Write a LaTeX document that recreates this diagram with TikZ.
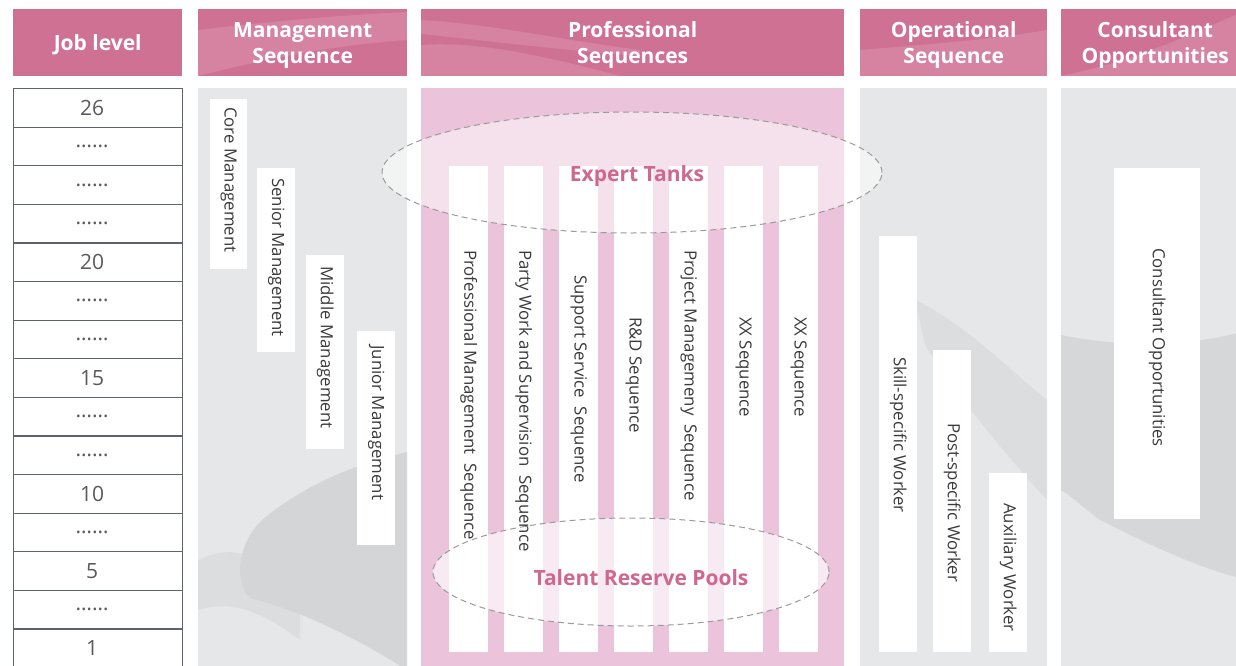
\documentclass[tikz,border=0pt]{standalone}
\usepackage{fontspec}
\setmainfont{Open Sans}
\usetikzlibrary{calc,shapes.geometric}
\definecolor{hdrpink}{HTML}{CF7193}
\definecolor{propink}{HTML}{EBC3DA}
\definecolor{panelgray}{HTML}{E6E7E8}
\definecolor{brushgray}{HTML}{D4D5D6}
\definecolor{tblline}{HTML}{5B6272}
\definecolor{txtgray}{HTML}{5A5A5A}
\definecolor{txtdark}{HTML}{3A3A3A}
\definecolor{accent}{HTML}{D0678E}
\definecolor{dashgray}{HTML}{9B9B9B}
\begin{document}
\begin{tikzpicture}[x=1pt,y=-1pt,
  hbg/.style={fill=hdrpink, anchor=north west, inner sep=0pt, minimum height=67pt},
  hdr/.style={text=white, font=\fontsize{21}{26}\selectfont\bfseries,
    align=center, anchor=north west, inner sep=0pt, minimum height=67pt, yshift=-2.5pt},
  panel/.style={anchor=north west, inner sep=0pt, minimum height=590pt},
  row/.style={draw=tblline, line width=1.1pt, fill=white, anchor=north west, inner sep=0pt,
    minimum width=169pt, minimum height=38.6pt, text=txtgray, font=\fontsize{21}{22}\selectfont},
  wbox/.style={fill=white, anchor=north west, inner sep=0pt},
  vtext/.style={rotate=-90, anchor=west, inner sep=0pt, text=txtdark, font=\fontsize{16.8}{18}\selectfont},
  pool/.style={ellipse, draw=dashgray, line width=1pt, dash pattern=on 6pt off 4pt, fill=white, inner sep=0pt},
  pooltext/.style={text=accent, font=\fontsize{21}{24}\selectfont\bfseries, inner sep=0pt},
  brush/.style={fill=brushgray, draw=none},
  streak/.style={fill=white, fill opacity=0.13, draw=none}
]
\useasboundingbox (0,0) rectangle (1236,666);
\fill[white] (0,0) rectangle (1236,666);

% ---------- header backgrounds ----------
\node[hbg, minimum width=169pt] (bjob) at (13,9) {};
\node[hbg, minimum width=209pt] (bmgmt) at (198,9) {};
\node[hbg, minimum width=423pt] (bpro) at (421,9) {};
\node[hbg, minimum width=187pt] (bop) at (860,9) {};
\node[hbg, minimum width=188pt] (bcon) at (1061,9) {};
% light brush streaks on headers
\begin{scope}
  \clip (198,9) rectangle (407,76) (421,9) rectangle (844,76) (860,9) rectangle (1047,76) (1061,9) rectangle (1249,76);
  \fill[streak] (198,30) .. controls (280,20) and (360,14) .. (407,12) -- (407,40) .. controls (340,44) and (260,60) .. (198,76) -- cycle;
  \fill[streak] (421,45) .. controls (480,40) and (560,60) .. (620,76) -- (421,76) -- cycle;
  \fill[streak] (421,20) .. controls (500,25) and (560,40) .. (640,50) -- (640,56) .. controls (560,50) and (480,40) .. (421,34) -- cycle;
  \fill[streak] (860,50) .. controls (920,45) and (990,40) .. (1047,30) -- (1047,76) -- (860,76) -- cycle;
  \fill[streak] (1061,76) .. controls (1140,60) and (1200,30) .. (1249,9) -- (1249,76) -- cycle;
\end{scope}
% ---------- header texts ----------
\node[hdr, minimum width=169pt] (hjob) at (13,9) {Job level};
\node[hdr, minimum width=209pt] (hmgmt) at (198,9) {Management\\Sequence};
\node[hdr, minimum width=423pt] (hpro) at (421,9) {Professional\\Sequences};
\node[hdr, minimum width=187pt] (hop) at (860,9) {Operational\\Sequence};
\node[hdr, minimum width=188pt] (hcon) at (1061,9) {Consultant\\Opportunities};

% ---------- panels ----------
\node[panel, fill=panelgray, minimum width=209pt] (pmgmt) at (198,88) {};
\node[panel, fill=propink, minimum width=423pt] (ppro) at (421,88) {};
\node[panel, fill=panelgray, minimum width=187pt] (pop) at (860,88) {};
\node[panel, fill=panelgray, minimum width=188pt] (pcon) at (1061,88) {};

% brush textures on grey panels
\begin{scope}
  \clip (198,88) rectangle (407,678);
  \fill[brush] (262,520) .. controls (310,480) and (365,462) .. (407,452) -- (407,670)
     .. controls (360,640) and (300,610) .. (250,598) .. controls (232,580) and (240,540) .. (262,520) -- cycle;
  \fill[brush, opacity=0.5] (198,560) .. controls (240,540) and (270,560) .. (300,600) -- (300,640) .. controls (260,610) and (230,600) .. (198,610) -- cycle;
\end{scope}
\begin{scope}
  \clip (860,88) rectangle (1047,678);
  \fill[brush, opacity=0.5] (915,300) .. controls (960,320) and (1010,370) .. (1047,400)
     -- (1047,500) .. controls (1010,460) and (960,400) .. (925,345) -- cycle;
\end{scope}
\begin{scope}
  \clip (1061,88) rectangle (1249,678);
  \fill[brush, opacity=0.85] (1061,335) .. controls (1110,345) and (1180,350) .. (1249,330) -- (1249,580)
     .. controls (1200,570) and (1140,540) .. (1100,520) .. controls (1080,505) and (1070,495) .. (1061,490) -- cycle;
\end{scope}

% ---------- job level table ----------
\foreach \t [count=\i from 0] in {26,……,……,……,20,……,……,15,……,……,10,……,5,……,1}
  \node[row] (row\i) at (13,88+\i*38.6) {\t\kern12pt};

% ---------- management sequence ----------
\node[wbox, minimum width=37pt, minimum height=170pt] (core) at (210,99) {};
\node[wbox, minimum width=38pt, minimum height=184pt] (senior) at (257,168) {};
\node[wbox, minimum width=38pt, minimum height=194pt] (middle) at (306,255) {};
\node[wbox, minimum width=38pt, minimum height=214pt] (junior) at (357,331) {};
\node[vtext] (tcore) at ($(core.north)+(0,8)$) {Core Management};
\node[vtext] (tsenior) at ($(senior.north)+(0,10)$) {Senior Management};
\node[vtext] (tmiddle) at ($(middle.north)+(0,11)$) {Middle Management};
\node[vtext] (tjunior) at ($(junior.north)+(0,14)$) {Junior Management};

% ---------- professional sequences ----------
\foreach \k in {0,...,6}
  \node[wbox, minimum width=39pt, minimum height=486pt] (col\k) at (449+55*\k,166) {};

\node[pool, fill opacity=0.5, minimum width=500pt, minimum height=121pt] (expert) at (632,172.5) {};
\node[pool, fill opacity=0.65, minimum width=396pt, minimum height=108pt] (talent) at (631,572) {};

\node[vtext] (t0) at ($(col0.north)+(0,84)$) {Professional Management\ \ Sequence};
\node[vtext] (t1) at ($(col1.north)+(0,84)$) {Party Work and Supervision\ \ Sequence};
\node[vtext] (t2) at ($(col2.north)+(0,109)$) {Support Service\ \ Sequence};
\node[vtext] (t3) at ($(col3.north)+(0,151)$) {R\&D Sequence};
\node[vtext] (t4) at ($(col4.north)+(0,84)$) {Project Managemeny\ \ Sequence};
\node[vtext] (t5) at ($(col5.north)+(0,151)$) {XX Sequence};
\node[vtext] (t6) at ($(col6.north)+(0,151)$) {XX Sequence};

\node[pooltext] (lexpert) at (637,176) {Expert Tanks};
\node[pooltext] (ltalent) at (641,578) {Talent Reserve Pools};

% ---------- operational sequence ----------
\node[wbox, minimum width=38pt, minimum height=416pt] (skill) at (879,236) {};
\node[wbox, minimum width=38pt, minimum height=302pt] (post) at (933,350) {};
\node[wbox, minimum width=38pt, minimum height=179pt] (aux) at (989,473) {};
\node[vtext] (tskill) at ($(skill.north)+(0,121)$) {Skill-specific Worker};
\node[vtext] (tpost) at ($(post.north)+(0,73)$) {Post-specific Worker};
\node[vtext] (taux) at ($(aux.north)+(0,30)$) {Auxiliary Worker};

% ---------- consultant ----------
\node[wbox, minimum width=86pt, minimum height=351pt] (cons) at (1114,168) {};
\node[vtext] (tcons) at ($(cons.north)+(0,80)$) {Consultant Opportunities};
\end{tikzpicture}
\end{document}
